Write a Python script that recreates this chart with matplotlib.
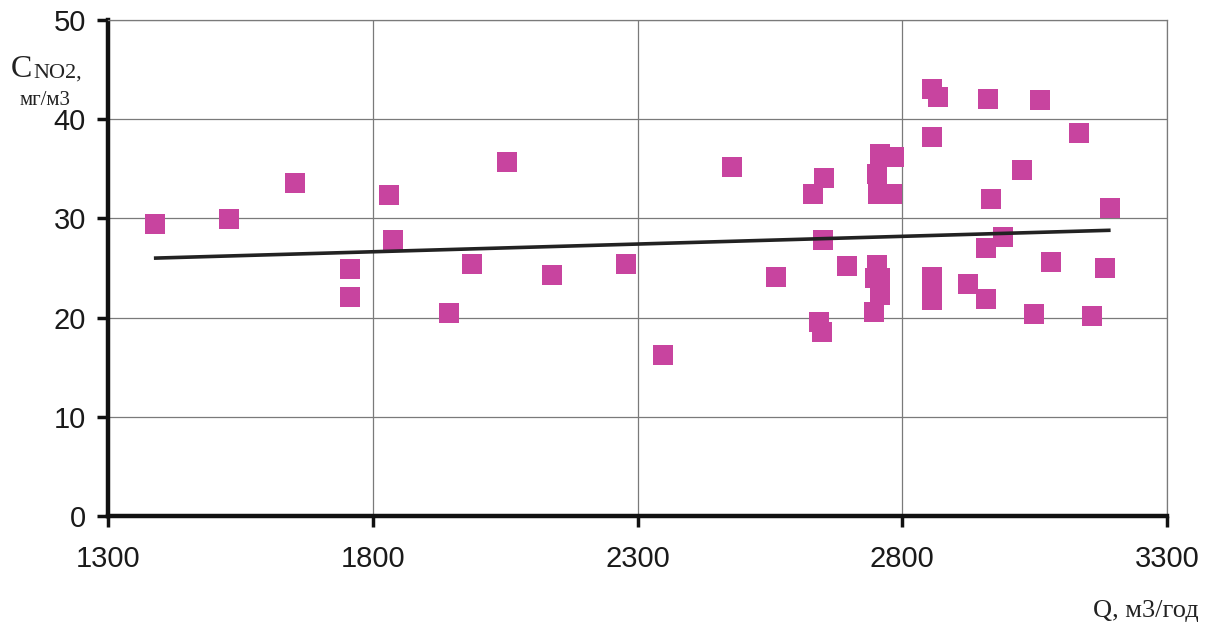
"""
Scatter of NO2 concentration vs flow Q with a linear trend line.
"""
import matplotlib

matplotlib.use("Agg")
import matplotlib.pyplot as plt

# measured points (Q, m3/year ; C_NO2, mg/m3)
q_values = [1389, 1529, 1653, 1757, 1757, 1831, 1839, 2054, 1988, 1943,
            2139, 2279, 2349, 2479, 2561, 2857, 2867, 2961, 3060, 3133,
            2857, 2757, 2785, 2752, 2653, 2631, 2755, 2780, 3026, 2967,
            3192, 2650, 2959, 2990, 2695, 2752, 2748, 2757, 2757, 2746,
            2642, 2648, 2857, 2857, 2857, 2925, 2959, 3080, 3182, 3048,
            3158]
c_values = [29.4, 29.9, 33.6, 24.9, 22.1, 32.4, 27.8, 35.7, 25.4, 20.5,
            24.3, 25.4, 16.2, 35.2, 24.1, 43.0, 42.2, 42.0, 41.9, 38.6,
            38.2, 36.5, 36.2, 34.5, 34.1, 32.5, 32.5, 32.5, 34.9, 32.0,
            31.0, 27.8, 27.0, 28.1, 25.2, 25.3, 24.0, 24.0, 22.3, 20.6,
            19.6, 18.6, 24.1, 23.0, 21.8, 23.4, 21.9, 25.6, 25.0, 20.4,
            20.2]
# trend line end points
trend_q = [1390, 3190]
trend_c = [26.0, 28.8]

x_ticks = [1300, 1800, 2300, 2800, 3300]
y_ticks = [0, 10, 20, 30, 40, 50]

fig = plt.figure(figsize=(12.06, 6.33), dpi=100)
ax = fig.add_axes([0.0896, 0.1848, 0.8781, 0.7836])

ax.scatter(q_values, c_values, marker="s", s=200, color="#c8449f",
           linewidths=0, zorder=3)
ax.plot(trend_q, trend_c, color="#222222", linewidth=2.6, zorder=4)

ax.set_xlim(1300, 3300)
ax.set_ylim(0, 50)
ax.set_xticks(x_ticks)
ax.set_yticks(y_ticks)
ax.grid(True, color="#7a7a7a", linewidth=0.9)
ax.set_axisbelow(True)

for spine in ("top", "right"):
    ax.spines[spine].set_color("#7a7a7a")
    ax.spines[spine].set_linewidth(0.9)
for spine in ("left", "bottom"):
    ax.spines[spine].set_color("#111111")
    ax.spines[spine].set_linewidth(3.2)

ax.tick_params(axis="both", direction="out", length=8, width=2.5, color="#111111",
               labelsize=21, labelcolor="#1a1a1a")
ax.tick_params(axis="x", pad=13)
ax.tick_params(axis="y", pad=8)
for label in ax.get_xticklabels() + ax.get_yticklabels():
    label.set_family("Liberation Sans")

# axis titles (serif, as in the original)
fig.text(0.009, 0.878, "C", fontsize=23, family="Liberation Serif", va="baseline",
         color="#222222")
fig.text(0.0275, 0.878, "NO2,", fontsize=16, family="Liberation Serif", va="baseline",
         color="#222222")
fig.text(0.016, 0.834, "мг/м3", fontsize=15, family="Liberation Serif", va="baseline",
         color="#222222")
fig.text(0.994, 0.025, "Q, м3/год", fontsize=19, family="Liberation Serif",
         ha="right", va="baseline", color="#222222")

fig.savefig("out.png", dpi=100)
